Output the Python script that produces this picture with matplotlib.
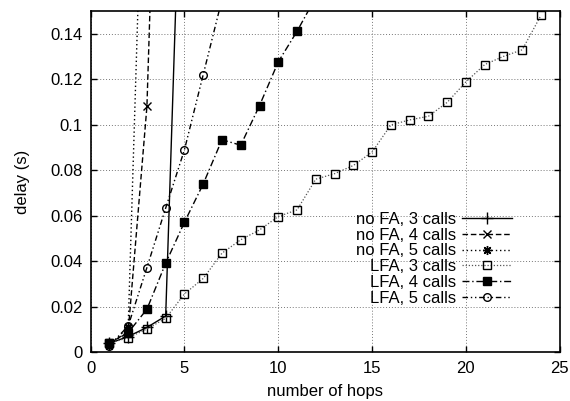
import matplotlib
matplotlib.use("Agg")
import matplotlib.pyplot as plt
from matplotlib.ticker import FuncFormatter

plt.rcParams['font.family'] = ['Liberation Sans', 'DejaVu Sans']
plt.rcParams['font.size'] = 12

# Data
nofa3_x = [1, 2, 3, 4, 5]
nofa3_y = [0.004, 0.007, 0.011, 0.016, 0.27]
nofa4_x = [1, 2, 3, 4]
nofa4_y = [0.004, 0.009, 0.108, 0.37]
nofa5_x = [1, 2, 3]
nofa5_y = [0.003, 0.011, 0.28]
lfa3_x = list(range(1, 25))
lfa3_y = [0.004, 0.0065, 0.0103, 0.015, 0.0257, 0.0325, 0.0436, 0.0495,
          0.0538, 0.0597, 0.0626, 0.0761, 0.0785, 0.0821, 0.088, 0.0999,
          0.1021, 0.1037, 0.1098, 0.1188, 0.1264, 0.130, 0.1329, 0.148]
lfa4_x = list(range(1, 13))
lfa4_y = [0.004, 0.0087, 0.019, 0.0392, 0.0572, 0.074, 0.0934, 0.091,
          0.1084, 0.1276, 0.141, 0.156]
lfa5_x = [1, 2, 3, 4, 5, 6, 7]
lfa5_y = [0.003, 0.0116, 0.0373, 0.0634, 0.089, 0.122, 0.155]

labels = ["no FA, 3 calls", "no FA, 4 calls", "no FA, 5 calls",
          "LFA, 3 calls", "LFA, 4 calls", "LFA, 5 calls"]

fig = plt.figure(figsize=(5.70, 4.01), dpi=100)
ax = fig.add_axes([0.159, 0.121, 0.823, 0.852])

ms = 5.5
ax.plot(nofa3_x, nofa3_y, color='black', lw=1.0, ls='-', marker='+',
        ms=8, mew=1.0, label=labels[0])
ax.plot(nofa4_x, nofa4_y, color='black', lw=1.0, ls=(0, (4, 2)), marker='x',
        ms=6, mew=1.0, label=labels[1])
ax.plot(nofa5_x, nofa5_y, color='black', lw=1.0, ls=(0, (1, 2)), marker=(8, 2, 0),
        ms=6.5, mew=1.0, label=labels[2])
ax.plot(lfa3_x, lfa3_y, color='#555555', lw=0.9, ls=(0, (1, 1.5)), marker='s',
        ms=ms, mfc='none', mec='black', mew=1.0, label=labels[3])
ax.plot(lfa4_x, lfa4_y, color='black', lw=1.0, ls=(0, (5, 2, 1, 2)), marker='s',
        ms=ms, mfc='black', mec='black', mew=1.0, label=labels[4])
ax.plot(lfa5_x, lfa5_y, color='black', lw=1.0, ls=(0, (4, 2, 1, 2, 1, 2)), marker='o',
        ms=ms, mfc='none', mec='black', mew=1.0, label=labels[5])

ax.set_xlim(0, 25)
ax.set_ylim(0, 0.15)
ax.set_xticks([0, 5, 10, 15, 20, 25])
ax.set_yticks([0, 0.02, 0.04, 0.06, 0.08, 0.1, 0.12, 0.14])
ax.yaxis.set_major_formatter(FuncFormatter(lambda v, p: '%g' % round(v, 4)))
ax.tick_params(direction='in', top=True, right=True, length=4, width=1.0,
               labelsize=12, pad=6)
ax.grid(True, color='#777777', ls=(0, (1, 2)), lw=0.7)
for s in ax.spines.values():
    s.set_linewidth(1.2)

ax.set_xlabel("number of hops", fontsize=12, labelpad=6)
ax.set_ylabel("delay (s)", fontsize=12, labelpad=14)

leg = ax.legend(loc='lower right', bbox_to_anchor=(0.917, 0.112), frameon=False,
                markerfirst=False, handlelength=3.0, handletextpad=0.4,
                labelspacing=0.05, fontsize=12, borderpad=0)
for t in leg.get_texts():
    t.set_ha('right')
leg._legend_box.align = 'right'

fig.savefig("out.png", dpi=100)
